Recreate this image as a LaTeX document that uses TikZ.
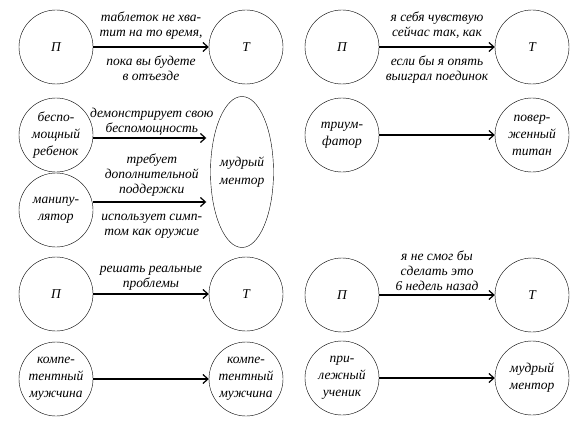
\documentclass[tikz,border=0pt]{standalone}
\usepackage{fontspec}
\setmainfont{Liberation Serif}
\usetikzlibrary{shapes.geometric,arrows.meta}
\begin{document}
\begin{tikzpicture}[x=1pt,y=-1pt,
		every node/.style={font=\itshape\fontsize{13.5}{15}\selectfont,align=center},
		role/.style={draw,circle,minimum size=74pt,inner sep=0pt,font=\itshape\fontsize{13.5}{17}\selectfont},
		mentor/.style={draw,ellipse,minimum width=60pt,minimum height=151pt,inner sep=0pt,font=\itshape\fontsize{13.5}{18}\selectfont},
		arr/.style={-{Straight Barb[length=5pt,width=9pt]},line width=1.2pt}]
	\useasboundingbox (0,0) rectangle (585,425);

	% first row
	\node[role] (p1) at (56,47) {П};
	\node[role] (t1) at (246,47) {Т};
	\node[role] (p2) at (342,47) {П};
	\node[role] (t2) at (532,47) {Т};
	\draw[arr] (p1) -- node[above=4pt]{таблеток не хва-\\тит на то время,} node[below=5pt]{пока вы будете\\в отъезде} (t1);
	\draw[arr] (p2) -- node[above=4pt]{я себя чувствую\\сейчас так, как} node[below=5pt]{если бы я опять\\выиграл поединок} (t2);

	% second row
	\node[role] (child) at (56,135) {беспо-\\мощный\\ребенок};
	\node[role] (manip) at (56,210) {манипу-\\лятор};
	\node[mentor] (wise) at (242,172) {мудрый\\ментор};
	\node[role] (winner) at (342,135) {триум-\\фатор};
	\node[role] (titan) at (532,135) {повер-\\женный\\титан};
	\draw[arr,shorten >=4pt] ([yshift=-3pt]child.east) -- node[above=-1pt]{демонстрирует свою\\беспомощность} ([yshift=-3pt]child.east -| wise.west);
	\draw[arr,shorten >=4pt] ([yshift=8pt]manip.east) -- node[above=2pt]{требует\\дополнительной\\поддержки} node[below=8pt]{использует симп-\\том как оружие} ([yshift=8pt]manip.east -| wise.west);
	\draw[arr] (winner) -- (titan);

	% third row
	\node[role] (p3) at (56,294) {П};
	\node[role] (t3) at (246,294) {Т};
	\node[role] (p4) at (342,295) {П};
	\node[role] (t4) at (532,295) {Т};
	\draw[arr] (p3) -- node[above]{решать реальные\\проблемы} (t3);
	\draw[arr] (p4) -- node[above]{я не смог бы\\сделать это\\6 недель назад} (t4);

	% fourth row
	\node[role] (man1) at (56,379) {компе-\\тентный\\мужчина};
	\node[role] (man2) at (246,379) {компе-\\тентный\\мужчина};
	\node[role] (pupil) at (342,378) {при-\\лежный\\ученик};
	\node[role] (sage) at (532,378) {мудрый\\ментор};
	\draw[arr] (man1) -- (man2);
	\draw[arr] (pupil) -- (sage);
\end{tikzpicture}
\end{document}
